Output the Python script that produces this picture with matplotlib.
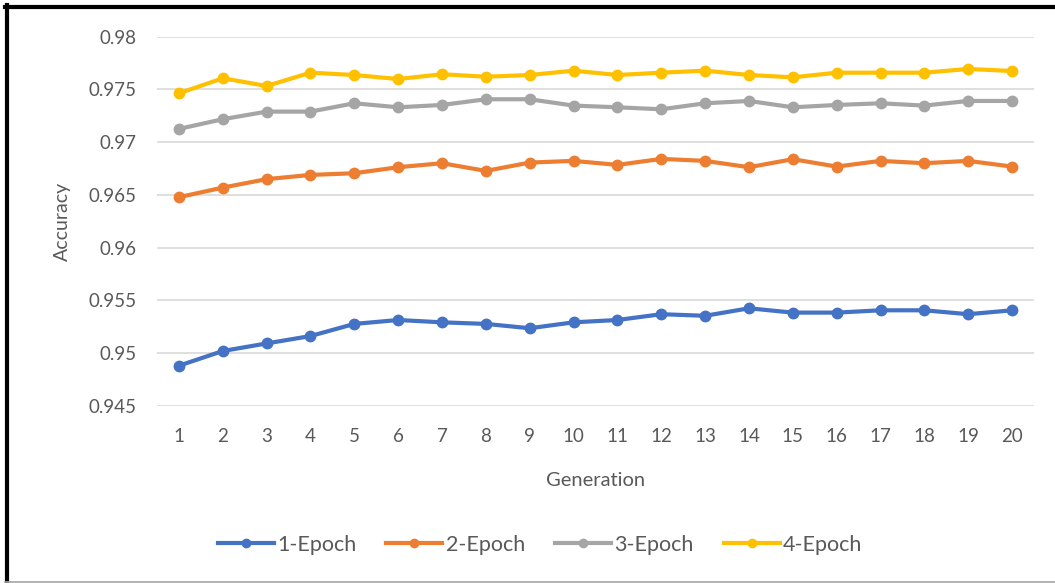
import matplotlib
matplotlib.use("Agg")
import matplotlib.pyplot as plt
from matplotlib.lines import Line2D

generations = list(range(1, 21))
epoch1 = [0.94882, 0.95021, 0.95093, 0.95163, 0.95278, 0.95315, 0.95293, 0.95278, 0.95237, 0.95293,
          0.95315, 0.95370, 0.95355, 0.95426, 0.95385, 0.95385, 0.95407, 0.95407, 0.95370, 0.95407]
epoch2 = [0.96479, 0.96570, 0.96650, 0.96690, 0.96706, 0.96763, 0.96801, 0.96728, 0.96807, 0.96823,
          0.96785, 0.96842, 0.96823, 0.96763, 0.96839, 0.96769, 0.96823, 0.96801, 0.96823, 0.96769]
epoch3 = [0.97126, 0.97218, 0.97290, 0.97290, 0.97369, 0.97331, 0.97353, 0.97407, 0.97407, 0.97347,
          0.97331, 0.97312, 0.97369, 0.97391, 0.97331, 0.97353, 0.97369, 0.97347, 0.97391, 0.97391]
epoch4 = [0.97464, 0.97606, 0.97533, 0.97659, 0.97637, 0.97599, 0.97644, 0.97621, 0.97637, 0.97678,
          0.97637, 0.97659, 0.97678, 0.97637, 0.97615, 0.97659, 0.97659, 0.97659, 0.97694, 0.97675]
series_names = ["1-Epoch", "2-Epoch", "3-Epoch", "4-Epoch"]
colors = ["#4472C4", "#ED7D31", "#A5A5A5", "#FFC000"]
yticks = [0.945, 0.95, 0.955, 0.96, 0.965, 0.97, 0.975, 0.98]
ytick_labels = ["0.945", "0.95", "0.955", "0.96", "0.965", "0.97", "0.975", "0.98"]

plt.rcParams['font.family'] = ['Lato', 'DejaVu Sans']
text_color = "#595959"

fig = plt.figure(figsize=(10.55, 5.83), dpi=100)
ax = fig.add_axes([157/1055, 1-406/583, (1034-157)/1055, (406-36.7)/583])

for vals, name, c in zip([epoch1, epoch2, epoch3, epoch4], series_names, colors):
    ax.plot(generations, vals, color=c, lw=3.0, marker='o', markersize=7.5, label=name,
            solid_capstyle='round')

ax.set_xlim(0.5, 20.5)
ax.set_ylim(0.945, 0.98)
ax.set_yticks(yticks)
ax.set_yticklabels(ytick_labels)
ax.set_xticks(generations)
ax.set_xticklabels([str(g) for g in generations])
ax.grid(axis='y', color="#D9D9D9", lw=1.2)
ax.set_axisbelow(True)
for s in ax.spines.values():
    s.set_visible(False)
ax.tick_params(axis='both', length=0, colors=text_color, labelsize=13.5)
ax.tick_params(axis='y', pad=15)
ax.tick_params(axis='x', pad=16)
ax.set_xlabel("Generation", color=text_color, fontsize=14.5, labelpad=19)
ax.set_ylabel("Accuracy", color=text_color, fontsize=14, labelpad=12)

handles = [Line2D([0], [0], color=c, lw=3.0, marker='o', markersize=6) for c in colors]
leg = fig.legend(handles, series_names, loc='center', bbox_to_anchor=(540/1055, 1-545/583),
                 ncol=4, frameon=False, fontsize=15.5, handlelength=2.6, handletextpad=0.15,
                 columnspacing=1.4)
for t in leg.get_texts():
    t.set_color(text_color)

# figure border
fig.add_artist(Line2D([5/1055, 1], [1-7/583, 1-7/583], color='black', lw=3, transform=fig.transFigure))
fig.add_artist(Line2D([7/1055, 7/1055], [0, 1-5/583], color='black', lw=3, transform=fig.transFigure))
fig.add_artist(Line2D([5/1055, 1], [1.5/583, 1.5/583], color='#A6A6A6', lw=1.2, transform=fig.transFigure))

fig.savefig("out.png", dpi=100)
